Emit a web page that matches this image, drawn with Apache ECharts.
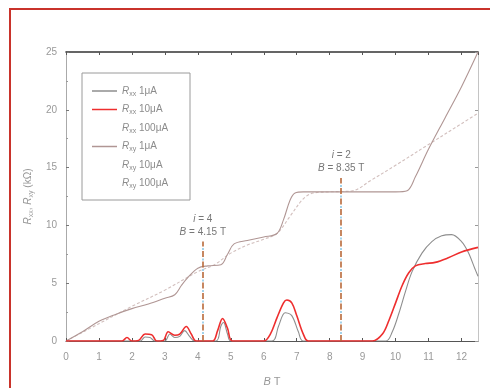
<!DOCTYPE html>
<html>
<head>
<meta charset="utf-8">
<script src="https://cdn.jsdelivr.net/npm/echarts@6/dist/echarts.min.js"></script>
<style>
  html, body { margin: 0; padding: 0; background: #fff; }
  #chart { width: 490px; height: 388px; }
</style>
</head>
<body>
<div id="chart"></div>
<script>
// B (T), R (kΩ)
const rxx1uA = [
  [0, 0], [2.25, 0], [2.4, 0.35], [2.55, 0.3], [2.7, 0], [3.0, 0], [3.15, 0.6], [3.3, 0.3],
  [3.45, 0.4], [3.6, 0.9], [3.75, 0.4], [3.9, 0], [4.55, 0], [4.7, 1.3], [4.78, 1.6], [4.9, 0.6],
  [5.0, 0], [6.25, 0], [6.45, 1.3], [6.65, 2.45], [6.85, 2.2], [7.05, 0.8], [7.2, 0], [9.7, 0],
  [9.9, 0.8], [10.1, 2.4], [10.3, 4.3], [10.5, 6.0], [10.8, 7.6], [11.1, 8.6], [11.4, 9.1],
  [11.7, 9.2], [12.0, 8.6], [12.2, 7.7], [12.4, 6.3], [12.5, 5.6]
]
const rxx10uA = [
  [0, 0], [1.7, 0], [1.85, 0.3], [2.0, 0], [2.2, 0.05], [2.4, 0.6], [2.6, 0.55], [2.75, 0],
  [2.95, 0.05], [3.1, 0.8], [3.3, 0.5], [3.45, 0.6], [3.65, 1.25], [3.8, 0.6], [3.95, 0],
  [4.45, 0], [4.6, 0.9], [4.75, 1.95], [4.9, 1.1], [5.05, 0], [6.0, 0], [6.2, 0.6], [6.4, 2.0],
  [6.6, 3.3], [6.7, 3.55], [6.85, 3.3], [7.0, 2.2], [7.2, 0.6], [7.35, 0], [9.3, 0], [9.6, 0.6],
  [9.8, 1.8], [10.0, 3.3], [10.2, 4.8], [10.4, 5.9], [10.6, 6.5], [10.9, 6.7], [11.2, 6.8],
  [11.6, 7.2], [12.0, 7.7], [12.5, 8.1]
]
const rxy1uA = [
  [0, 0], [0.5, 0.8], [1.0, 1.7], [1.5, 2.3], [2.0, 2.8], [2.5, 3.2], [3.0, 3.7], [3.3, 4.0],
  [3.5, 4.8], [3.7, 5.5], [4.0, 6.3], [4.3, 6.5], [4.7, 6.6], [4.9, 7.5], [5.1, 8.4], [5.5, 8.7],
  [6.0, 9.0], [6.4, 9.3], [6.6, 10.5], [6.8, 12.2], [6.95, 12.8], [7.2, 12.9], [8.0, 12.9],
  [9.0, 12.9], [10.0, 12.9], [10.35, 13.0], [10.6, 14.2], [11.0, 16.6], [11.5, 19.3],
  [12.0, 22.0], [12.5, 25]
]
const rxy10uA = [
  [0, 0], [1, 1.5], [2, 3.0], [3, 4.4], [4, 6.0], [4.5, 6.6], [5, 7.6], [5.5, 8.3], [6, 8.8],
  [6.4, 9.3], [6.8, 10.8], [7.2, 12.3], [7.5, 12.8], [8, 12.9], [8.7, 13.0], [9.25, 13.9],
  [10, 15.2], [11, 17.0], [12, 18.8], [12.5, 19.7]
]
const fillB = [4.15, 8.35]
const fillTop = [8.6, 14.1]
const fillIndex = [4, 2]
const legendNames = ['Rxx 1μA', 'Rxx 10μA', 'Rxx 100μA', 'Rxy 1μA', 'Rxy 10μA', 'Rxy 100μA']

const chart = echarts.init(document.getElementById('chart'))
const font = 'Liberation Sans'
const txt = '#8c8c8c'
const sub = { fontSize: 7, verticalAlign: 'bottom', color: txt, fontFamily: font }
const ital = { fontStyle: 'italic', fontSize: 10, lineHeight: 13, color: txt, fontFamily: font }

const markPairs = (color, type, offset) => fillB.map((b, k) => [
  { coord: [b, 0], lineStyle: { color, width: 1.6, type, dashOffset: offset } },
  { coord: [b, fillTop[k]] }
])

const line = (name, data, color, extra) => Object.assign({
  name, type: 'line', data, showSymbol: false, symbol: 'none', smooth: 0.35,
  lineStyle: { color, width: 1 }, itemStyle: { color }, z: 3
}, extra || {})

chart.setOption({
  animation: false,
  backgroundColor: '#fff',
  textStyle: { fontFamily: font },
  grid: { left: 66, right: 12, top: 52, bottom: 47, containLabel: false, outerBoundsMode: 'none' },
  graphic: [
    { type: 'rect', shape: { x: 10, y: 9, width: 520, height: 420 }, style: { fill: 'none', stroke: '#c9332b', lineWidth: 2 }, z: -1 },
    { type: 'rect', shape: { x: 82, y: 73, width: 108, height: 127 }, style: { fill: '#fff', stroke: '#9a9a9a', lineWidth: 1 }, z: 1 }
  ],
  legend: {
    orient: 'vertical', left: 92, top: 86, padding: 0, itemGap: 7,
    itemWidth: 25, itemHeight: 1.5, icon: 'rect', z: 5,
    data: legendNames.map((n, k) => ([0, 1, 3].includes(k) ? n :
      { name: n, itemStyle: { opacity: 0 } })),
    formatter: n => { const [q, cur] = n.split(' '); return `{i|R}{s|${q.slice(1)}} ${cur}` },
    textStyle: { color: txt, fontSize: 10, fontFamily: font, rich: { i: ital, s: sub } }
  },
  xAxis: [
    {
      type: 'value', min: 0, max: 12.5, interval: 1,
      name: '{i|B} T', nameLocation: 'middle', nameGap: 34,
      nameTextStyle: { color: '#999', fontSize: 11, fontFamily: font, rich: { i: Object.assign({}, ital, { fontSize: 11, color: '#999' }) } },
      axisLine: { onZero: false, lineStyle: { color: '#555', width: 1.2 } },
      axisTick: { inside: true, length: 3, lineStyle: { color: '#555' } },
      axisLabel: { color: '#999', fontSize: 10, margin: 11, showMaxLabel: false },
      splitLine: { show: false }
    },
    {
      type: 'value', position: 'top', min: 0, max: 12.5, interval: 1,
      axisLine: { onZero: false, lineStyle: { color: '#333', width: 1.6 } },
      axisTick: { inside: true, length: 3, lineStyle: { color: '#555' } },
      axisLabel: { show: false }, splitLine: { show: false }
    }
  ],
  yAxis: [
    {
      type: 'value', min: 0, max: 25, interval: 5,
      name: '{i|R}{s|xx}, {i|R}{s|xy} (kΩ)', nameLocation: 'middle', nameGap: 30,
      nameTextStyle: { color: '#999', fontSize: 10, fontFamily: font, rich: { i: Object.assign({}, ital, { color: '#999' }), s: Object.assign({}, sub, { color: '#999' }) } },
      axisLine: { show: true, onZero: false, lineStyle: { color: '#aaa' } },
      axisTick: { inside: true, length: 3, lineStyle: { color: '#777' } },
      minorTick: { show: true, splitNumber: 2, length: 2, lineStyle: { color: '#999' } },
      axisLabel: { color: '#999', fontSize: 10, margin: 9 },
      splitLine: { show: false }
    },
    {
      type: 'value', position: 'right', min: 0, max: 25, interval: 5,
      axisLine: { show: true, onZero: false, lineStyle: { color: '#c4c4c4' } },
      axisTick: { inside: true, length: 3, lineStyle: { color: '#999' } },
      axisLabel: { show: false }, splitLine: { show: false }
    }
  ],
  series: [
    line('Rxy 10μA', rxy10uA, '#d2bfbd', { lineStyle: { color: '#d2bfbd', width: 1.1, type: [3, 2] } }),
    line('Rxy 1μA', rxy1uA, '#b09694', { lineStyle: { color: '#b09694', width: 1.1 } }),
    line('Rxy 100μA', [], '#c8b4b2'),
    line('Rxx 100μA', [], '#c8c8c8'),
    line('Rxx 1μA', rxx1uA, '#8e8e8e', {
      lineStyle: { color: '#8e8e8e', width: 1.1 },
      markLine: {
        silent: true, symbol: 'none', z: 6,
        label: {
          show: true, position: 'end', distance: 3, color: '#777', fontSize: 10, fontFamily: font,
          formatter: p => {
            const k = fillB.indexOf(p.data.coord ? p.data.coord[0] : p.value)
            return `{i|i} = ${fillIndex[k]}\n{i|B} = ${fillB[k].toFixed(2)} T`
          },
          rich: { i: Object.assign({}, ital, { color: '#777' }) }, lineHeight: 13
        },
        data: markPairs('#b8693a', [6, 4.5], 0)
      }
    }),
    line('Rxx 10μA', rxx10uA, '#ee2e2e', {
      lineStyle: { color: '#ee2e2e', width: 1.6 }, z: 4,
      markLine: {
        silent: true, symbol: 'none', z: 7, label: { show: false },
        data: markPairs('#8cc8e6', [2, 8.5], -7)
      }
    })
  ]
})
</script>
</body>
</html>
